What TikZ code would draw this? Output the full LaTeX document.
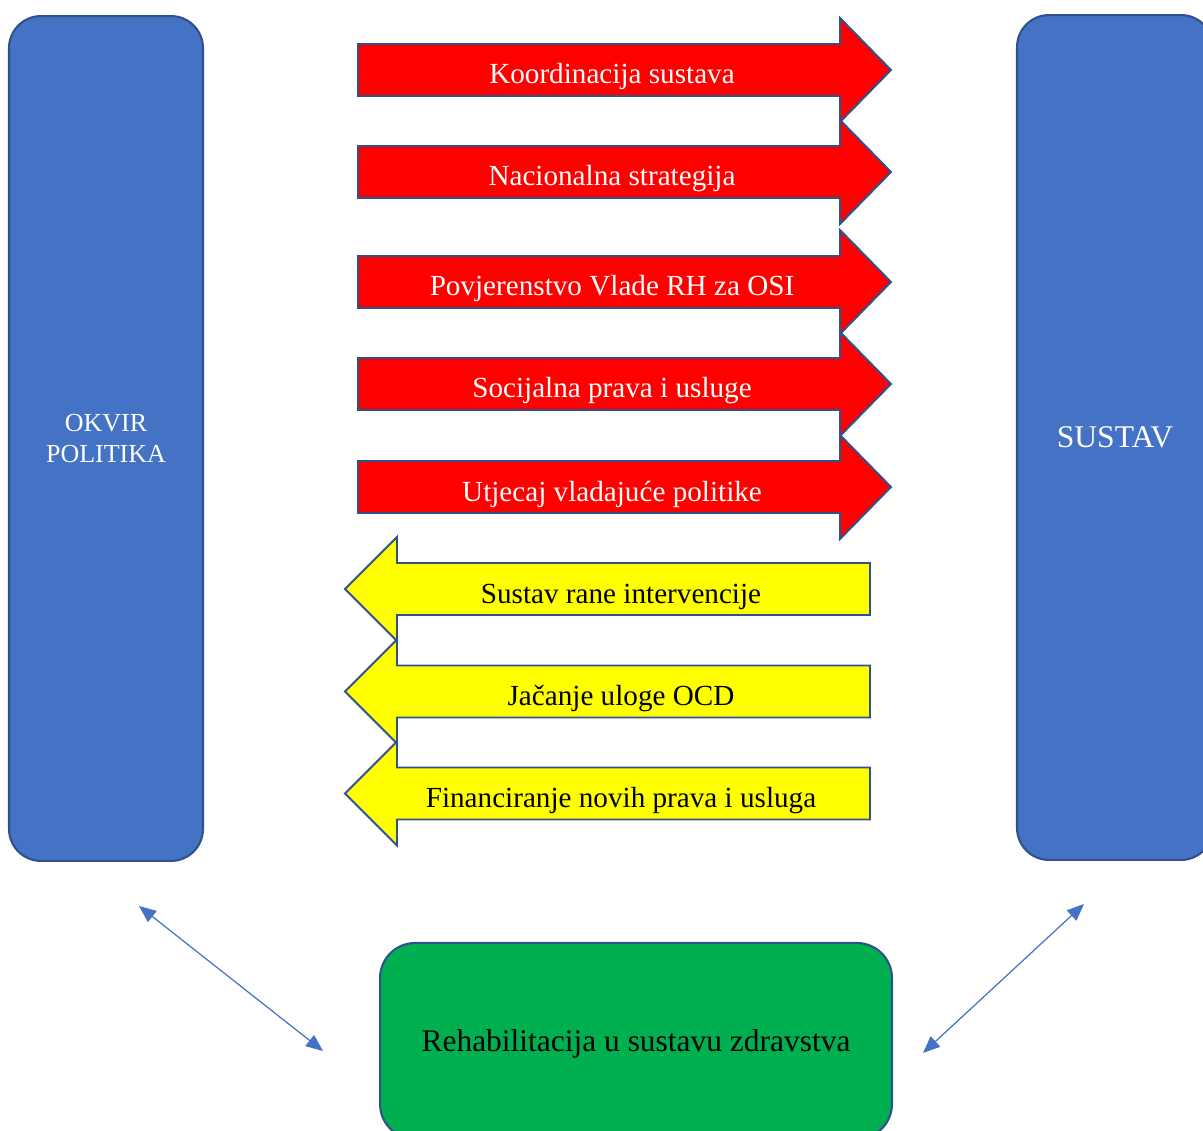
\documentclass[tikz,border=0pt]{standalone}
\usepackage{fontspec}
\setmainfont{Liberation Serif}
\usetikzlibrary{arrows.meta}

\definecolor{boxblue}{HTML}{4472C4}
\definecolor{edgeblue}{HTML}{2F528F}
\definecolor{flowred}{HTML}{FF0000}
\definecolor{flowyellow}{HTML}{FFFF00}
\definecolor{boxgreen}{HTML}{00B050}

\tikzset{
  x=0.02cm, y=-0.02cm,
  panel/.style={draw=edgeblue, line width=1.2pt, rounded corners=0.64cm,
                align=center, inner sep=0pt},
  sidebox/.style={panel, fill=boxblue, text=white, minimum height=16.9cm},
  healthbox/.style={panel, fill=boxgreen, text=black, rounded corners=0.7cm,
                    minimum width=10.24cm, minimum height=3.92cm, text depth=0pt},
  flowshape/.style={draw=edgeblue, line width=1.1pt, line join=miter},
  redflow/.style={flowshape, fill=flowred},
  yellowflow/.style={flowshape, fill=flowyellow},
  flowlabel/.style={anchor=base, inner sep=0pt,
                    font=\fontsize{16.6}{20}\selectfont},
  redlabel/.style={flowlabel, text=white},
  yellowlabel/.style={flowlabel, text=black},
  link/.style={draw=boxblue, line width=0.7pt,
               {Triangle[length=0.34cm,width=0.28cm]}-{Triangle[length=0.34cm,width=0.28cm]}}
}

\begin{document}
\begin{tikzpicture}
  \useasboundingbox (0,0) rectangle (1203,1131);
  \clip (0,0) rectangle (1203,1131);

  % side panels
  \node[sidebox, minimum width=3.88cm, font=\fontsize{14.8}{17.6}\selectfont]
    (okvir) at (106,438.5) {OKVIR\\POLITIKA};
  \node[sidebox, minimum width=3.92cm, text depth=0pt, font=\fontsize{18}{21}\selectfont]
    (sustav) at (1115,437.5) {SUSTAV};

  % arrows pointing right
  \foreach \c/\name/\txt in {70/r1/Koordinacija sustava,
                             172/r2/Nacionalna strategija,
                             282/r3/Povjerenstvo Vlade RH za OSI,
                             384/r4/Socijalna prava i usluge,
                             487/r5/Utjecaj vladajuće politike}{
    \draw[redflow] (358,\c-26) -- (840,\c-26) -- (840,\c-52) -- (891,\c)
                   -- (840,\c+52) -- (840,\c+26) -- (358,\c+26) -- cycle;
    \node[redlabel] (\name) at (612,\c+14) {\txt};
  }

  % arrows pointing left
  \foreach \c/\name/\txt in {589/y1/Sustav rane intervencije,
                             691.5/y2/Jačanje uloge OCD,
                             793.5/y3/Financiranje novih prava i usluga}{
    \draw[yellowflow] (870,\c-26) -- (397,\c-26) -- (397,\c-52) -- (345,\c)
                      -- (397,\c+52) -- (397,\c+26) -- (870,\c+26) -- cycle;
    \node[yellowlabel] (\name) at (621,\c+14) {\txt};
  }

  % bottom panel
  \node[healthbox, font=\fontsize{17.9}{21}\selectfont]
    (rehab) at (636,1041) {Rehabilitacija u sustavu zdravstva};

  % two-way links
  \coordinate (la) at (139,906);
  \coordinate (lb) at (323,1051);
  \coordinate (ra) at (1084,904);
  \coordinate (rb) at (923,1053);
  \draw[link] (la) -- (lb);
  \draw[link] (ra) -- (rb);
\end{tikzpicture}
\end{document}
